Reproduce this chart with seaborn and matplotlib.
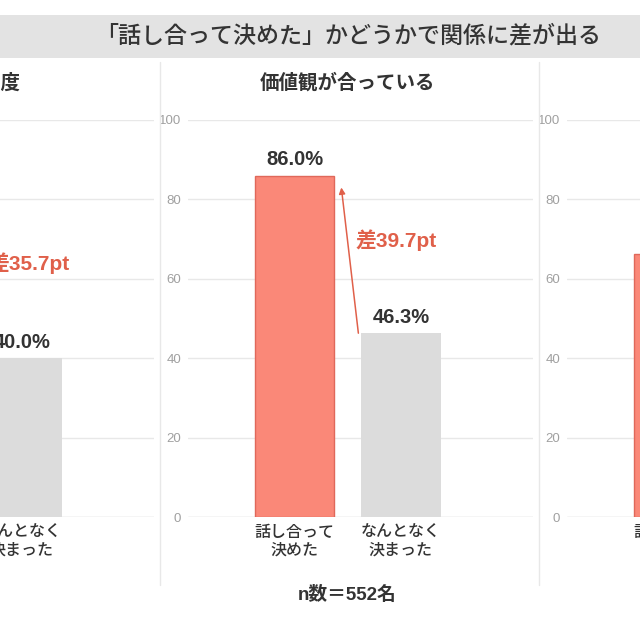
import numpy as np
import pandas as pd
import matplotlib
matplotlib.use("Agg")
import matplotlib.pyplot as plt
import seaborn as sns
from matplotlib.patches import Rectangle
from matplotlib.lines import Line2D

# ---------------- data ----------------
title = "「話し合って決めた」かどうかで関係に差が出る"
panel_titles = ["関係の満足度", "価値観が合っている", ""]
categories = ["話し合って\n決めた", "なんとなく\n決まった"]
left_values = [75.7, 40.0]
mid_values = [86.0, 46.3]
right_values = [66.2, np.nan]
diff_labels = ["差35.7pt", "差39.7pt", None]
y_ticks = [0, 20, 40, 60, 80, 100]
note = "n数＝552名"

# ---------------- style ----------------
sns.set_theme(style="white")
plt.rcParams["font.family"] = ["Liberation Sans", "Noto Sans CJK JP"]

SALMON = "#FA8878"
SALMON_EDGE = "#E0685A"
GREY = "#DCDCDC"
RED = "#E0604A"
DARK = "#333333"

W = H = 640
fig = plt.figure(figsize=(6.4, 6.4), dpi=100)

def fx(px):
    return px / W

def fy(py):
    return (H - py) / H

# title band
fig.patches.append(Rectangle((0, fy(58)), 1, fy(15) - fy(58), transform=fig.transFigure,
                             facecolor="#E3E3E3", edgecolor="none", zorder=0))
fig.text(fx(348), fy(36), title, ha="center", va="center", fontsize=16.6,
         color=DARK, family=["Noto Sans CJK JP"], weight="medium")

period = 379
ax_left0 = 188
ax_w = 345
ax_top, ax_bot = 120, 517

all_values = [left_values, mid_values, right_values]
diff_pos = [(1.07, 64.0), (0.955, 69.8), None]
title_x = [-38, 348, 727]

for k, vals in enumerate(all_values):
    off = (k - 1) * period
    ax = fig.add_axes([fx(ax_left0 + off), fy(ax_bot), fx(ax_w), fy(ax_top) - fy(ax_bot)])
    df = pd.DataFrame({"cat": categories, "val": vals}).dropna()
    sns.barplot(data=df, x="cat", y="val", order=categories, hue="cat",
                hue_order=categories, palette=[SALMON, GREY], width=0.75,
                saturation=1, legend=False, ax=ax, zorder=3)
    for i, p in enumerate(ax.patches):
        if p.get_facecolor()[1] < 0.7:
            p.set_edgecolor(SALMON_EDGE)
            p.set_linewidth(1.0)
        else:
            p.set_edgecolor("none")
    ax.set_xlim(-1.0, 2.24)
    ax.set_ylim(0, 100)
    ax.set_yticks(y_ticks)
    ax.set_yticklabels([str(t) for t in y_ticks])
    ax.tick_params(axis="y", length=0, pad=5, labelsize=9.5, labelcolor="#A0A0A0")
    ax.tick_params(axis="x", length=0, pad=5, labelsize=11.5, labelcolor=DARK)
    for lab in ax.get_xticklabels():
        lab.set_family(["Noto Sans CJK JP"])
        lab.set_weight("medium")
        lab.set_linespacing(1.05)
    ax.set_xlabel("")
    ax.set_ylabel("")
    for s in ax.spines.values():
        s.set_visible(False)
    for t in y_ticks:
        ax.axhline(t, color="#CCCCCC" if t == 0 else "#E8E8E8", lw=1.0, zorder=1)
    # value labels
    for i, v in enumerate(vals):
        if not np.isnan(v):
            ax.text(i, v + 4.0, f"{v:.1f}%", ha="center", va="center",
                    fontsize=14.5, weight="bold", color=DARK)
    # diff arrow + label
    if diff_labels[k] is not None:
        ax.annotate("", xy=(0.44, vals[0] - 3.0), xytext=(0.60, vals[1]),
                    arrowprops=dict(arrowstyle="-|>", color=RED, lw=1.1,
                                    mutation_scale=9, shrinkA=0, shrinkB=0))
        ax.text(diff_pos[k][0], diff_pos[k][1], diff_labels[k], ha="center", va="center",
                fontsize=15, weight="bold", color=RED)
    # panel title
    if panel_titles[k]:
        fig.text(fx(title_x[k]), fy(83), panel_titles[k], ha="center", va="center",
                 fontsize=14, weight="bold", color=DARK, family=["Noto Sans CJK JP"])

# panel separators
for xs in [160, 539]:
    fig.add_artist(Line2D([fx(xs), fx(xs)], [fy(62), fy(585)], transform=fig.transFigure,
                          color="#E8E8E8", lw=1.0))

fig.text(fx(347), fy(595), note, ha="center", va="center", fontsize=13.5,
         weight="bold", color=DARK)

fig.savefig("out.png", dpi=100)
